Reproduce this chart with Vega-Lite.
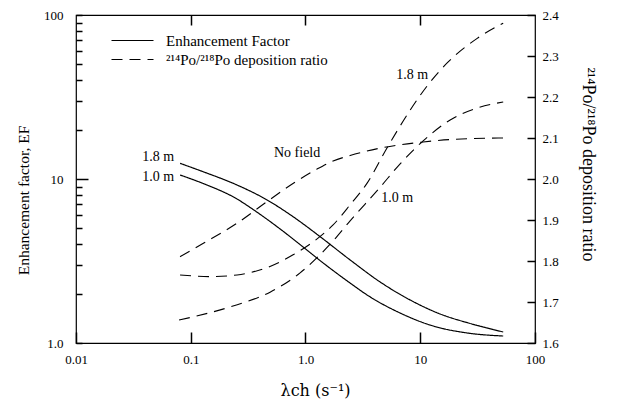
{
  "$schema": "https://vega.github.io/schema/vega-lite/v6.json",
  "width": 459,
  "height": 328,
  "autosize": "none",
  "padding": {"left": 76, "top": 15, "right": 82, "bottom": 58},
  "background": "white",
  "config": {
    "font": "Liberation Serif",
    "view": {"stroke": "black", "strokeWidth": 1.2},
    "axis": {
      "grid": false,
      "domain": false,
      "labelColor": "black",
      "titleColor": "black",
      "labelFont": "Liberation Serif",
      "titleFont": "Liberation Serif",
      "labelFontSize": 13,
      "titleFontSize": 16,
      "titleFontWeight": "normal"
    },
    "legend": {
      "labelFont": "Liberation Serif",
      "labelFontSize": 15,
      "labelColor": "black",
      "labelLimit": 400
    }
  },
  "datasets": {
    "curves": [
      {"lambda": 0.0807, "value": 12.46, "series": "EF 1.8 m", "kind": "Enhancement Factor"},
      {"lambda": 0.128, "value": 11.08, "series": "EF 1.8 m", "kind": "Enhancement Factor"},
      {"lambda": 0.2533, "value": 9.19, "series": "EF 1.8 m", "kind": "Enhancement Factor"},
      {"lambda": 0.4627, "value": 7.45, "series": "EF 1.8 m", "kind": "Enhancement Factor"},
      {"lambda": 0.7798, "value": 5.89, "series": "EF 1.8 m", "kind": "Enhancement Factor"},
      {"lambda": 1.341, "value": 4.45, "series": "EF 1.8 m", "kind": "Enhancement Factor"},
      {"lambda": 2.448, "value": 3.21, "series": "EF 1.8 m", "kind": "Enhancement Factor"},
      {"lambda": 4.472, "value": 2.355, "series": "EF 1.8 m", "kind": "Enhancement Factor"},
      {"lambda": 8.166, "value": 1.829, "series": "EF 1.8 m", "kind": "Enhancement Factor"},
      {"lambda": 14.91, "value": 1.503, "series": "EF 1.8 m", "kind": "Enhancement Factor"},
      {"lambda": 27.23, "value": 1.315, "series": "EF 1.8 m", "kind": "Enhancement Factor"},
      {"lambda": 52.83, "value": 1.167, "series": "EF 1.8 m", "kind": "Enhancement Factor"},
      {"lambda": 0.0807, "value": 10.58, "series": "EF 1.0 m", "kind": "Enhancement Factor"},
      {"lambda": 0.128, "value": 9.39, "series": "EF 1.0 m", "kind": "Enhancement Factor"},
      {"lambda": 0.2533, "value": 7.55, "series": "EF 1.0 m", "kind": "Enhancement Factor"},
      {"lambda": 0.3493, "value": 6.52, "series": "EF 1.0 m", "kind": "Enhancement Factor"},
      {"lambda": 0.6005, "value": 4.96, "series": "EF 1.0 m", "kind": "Enhancement Factor"},
      {"lambda": 0.953, "value": 3.85, "series": "EF 1.0 m", "kind": "Enhancement Factor"},
      {"lambda": 1.341, "value": 3.18, "series": "EF 1.0 m", "kind": "Enhancement Factor"},
      {"lambda": 2.448, "value": 2.32, "series": "EF 1.0 m", "kind": "Enhancement Factor"},
      {"lambda": 3.444, "value": 1.962, "series": "EF 1.0 m", "kind": "Enhancement Factor"},
      {"lambda": 6.679, "value": 1.523, "series": "EF 1.0 m", "kind": "Enhancement Factor"},
      {"lambda": 12.96, "value": 1.27, "series": "EF 1.0 m", "kind": "Enhancement Factor"},
      {"lambda": 25.64, "value": 1.151, "series": "EF 1.0 m", "kind": "Enhancement Factor"},
      {"lambda": 52.83, "value": 1.103, "series": "EF 1.0 m", "kind": "Enhancement Factor"},
      {"lambda": 0.0807, "value": 1.8105, "series": "Ratio no field", "kind": "²¹⁴Po/²¹⁸Po deposition ratio"},
      {"lambda": 0.1288, "value": 1.8432, "series": "Ratio no field", "kind": "²¹⁴Po/²¹⁸Po deposition ratio"},
      {"lambda": 0.2527, "value": 1.892, "series": "Ratio no field", "kind": "²¹⁴Po/²¹⁸Po deposition ratio"},
      {"lambda": 0.4611, "value": 1.9446, "series": "Ratio no field", "kind": "²¹⁴Po/²¹⁸Po deposition ratio"},
      {"lambda": 0.7838, "value": 1.9895, "series": "Ratio no field", "kind": "²¹⁴Po/²¹⁸Po deposition ratio"},
      {"lambda": 1.262, "value": 2.0244, "series": "Ratio no field", "kind": "²¹⁴Po/²¹⁸Po deposition ratio"},
      {"lambda": 1.74, "value": 2.0439, "series": "Ratio no field", "kind": "²¹⁴Po/²¹⁸Po deposition ratio"},
      {"lambda": 2.448, "value": 2.0573, "series": "Ratio no field", "kind": "²¹⁴Po/²¹⁸Po deposition ratio"},
      {"lambda": 4.75, "value": 2.0768, "series": "Ratio no field", "kind": "²¹⁴Po/²¹⁸Po deposition ratio"},
      {"lambda": 10.6, "value": 2.0902, "series": "Ratio no field", "kind": "²¹⁴Po/²¹⁸Po deposition ratio"},
      {"lambda": 18.23, "value": 2.0963, "series": "Ratio no field", "kind": "²¹⁴Po/²¹⁸Po deposition ratio"},
      {"lambda": 52.83, "value": 2.1, "series": "Ratio no field", "kind": "²¹⁴Po/²¹⁸Po deposition ratio"},
      {"lambda": 0.0807, "value": 1.766, "series": "Ratio 1.8 m", "kind": "²¹⁴Po/²¹⁸Po deposition ratio"},
      {"lambda": 0.1473, "value": 1.762, "series": "Ratio 1.8 m", "kind": "²¹⁴Po/²¹⁸Po deposition ratio"},
      {"lambda": 0.2533, "value": 1.766, "series": "Ratio 1.8 m", "kind": "²¹⁴Po/²¹⁸Po deposition ratio"},
      {"lambda": 0.4627, "value": 1.784, "series": "Ratio 1.8 m", "kind": "²¹⁴Po/²¹⁸Po deposition ratio"},
      {"lambda": 0.7798, "value": 1.815, "series": "Ratio 1.8 m", "kind": "²¹⁴Po/²¹⁸Po deposition ratio"},
      {"lambda": 1.262, "value": 1.854, "series": "Ratio 1.8 m", "kind": "²¹⁴Po/²¹⁸Po deposition ratio"},
      {"lambda": 1.74, "value": 1.888, "series": "Ratio 1.8 m", "kind": "²¹⁴Po/²¹⁸Po deposition ratio"},
      {"lambda": 2.448, "value": 1.937, "series": "Ratio 1.8 m", "kind": "²¹⁴Po/²¹⁸Po deposition ratio"},
      {"lambda": 3.444, "value": 1.99, "series": "Ratio 1.8 m", "kind": "²¹⁴Po/²¹⁸Po deposition ratio"},
      {"lambda": 5.145, "value": 2.076, "series": "Ratio 1.8 m", "kind": "²¹⁴Po/²¹⁸Po deposition ratio"},
      {"lambda": 8.166, "value": 2.168, "series": "Ratio 1.8 m", "kind": "²¹⁴Po/²¹⁸Po deposition ratio"},
      {"lambda": 11.49, "value": 2.227, "series": "Ratio 1.8 m", "kind": "²¹⁴Po/²¹⁸Po deposition ratio"},
      {"lambda": 17.16, "value": 2.283, "series": "Ratio 1.8 m", "kind": "²¹⁴Po/²¹⁸Po deposition ratio"},
      {"lambda": 31.35, "value": 2.343, "series": "Ratio 1.8 m", "kind": "²¹⁴Po/²¹⁸Po deposition ratio"},
      {"lambda": 52.83, "value": 2.38, "series": "Ratio 1.8 m", "kind": "²¹⁴Po/²¹⁸Po deposition ratio"},
      {"lambda": 0.0791, "value": 1.656, "series": "Ratio 1.0 m", "kind": "²¹⁴Po/²¹⁸Po deposition ratio"},
      {"lambda": 0.2201, "value": 1.688, "series": "Ratio 1.0 m", "kind": "²¹⁴Po/²¹⁸Po deposition ratio"},
      {"lambda": 0.4913, "value": 1.724, "series": "Ratio 1.0 m", "kind": "²¹⁴Po/²¹⁸Po deposition ratio"},
      {"lambda": 0.8973, "value": 1.771, "series": "Ratio 1.0 m", "kind": "²¹⁴Po/²¹⁸Po deposition ratio"},
      {"lambda": 1.639, "value": 1.841, "series": "Ratio 1.0 m", "kind": "²¹⁴Po/²¹⁸Po deposition ratio"},
      {"lambda": 2.448, "value": 1.898, "series": "Ratio 1.0 m", "kind": "²¹⁴Po/²¹⁸Po deposition ratio"},
      {"lambda": 4.472, "value": 1.98, "series": "Ratio 1.0 m", "kind": "²¹⁴Po/²¹⁸Po deposition ratio"},
      {"lambda": 6.679, "value": 2.037, "series": "Ratio 1.0 m", "kind": "²¹⁴Po/²¹⁸Po deposition ratio"},
      {"lambda": 10.6, "value": 2.093, "series": "Ratio 1.0 m", "kind": "²¹⁴Po/²¹⁸Po deposition ratio"},
      {"lambda": 18.23, "value": 2.144, "series": "Ratio 1.0 m", "kind": "²¹⁴Po/²¹⁸Po deposition ratio"},
      {"lambda": 31.35, "value": 2.173, "series": "Ratio 1.0 m", "kind": "²¹⁴Po/²¹⁸Po deposition ratio"},
      {"lambda": 52.83, "value": 2.188, "series": "Ratio 1.0 m", "kind": "²¹⁴Po/²¹⁸Po deposition ratio"}
    ],
    "labels": [
      {"lambda": 0.0519, "value": 13.6, "text": "1.8 m"},
      {"lambda": 0.0519, "value": 10.3, "text": "1.0 m"},
      {"lambda": 0.845, "value": 14.4, "text": "No field"},
      {"lambda": 8.49, "value": 43.1, "text": "1.8 m"},
      {"lambda": 6.3, "value": 7.66, "text": "1.0 m"}
    ]
  },
  "layer": [
    {
      "layer": [
        {
          "data": {"name": "curves"},
          "transform": [{"filter": "datum.kind == 'Enhancement Factor'"}],
          "mark": {"type": "line", "interpolate": "monotone", "color": "black", "strokeWidth": 1.2},
          "encoding": {
            "x": {
              "field": "lambda", "type": "quantitative",
              "scale": {"type": "log", "domain": [0.01, 100]},
              "axis": {
                "orient": "bottom",
                "values": [0.01, 0.1, 1, 10, 100],
                "labelExpr": "datum.value == 1 ? '1.0' : '' + datum.value",
                "ticks": true,
                "tickColor": "#000000",
                "tickWidth": 1.5,
                "tickOpacity": 1,
                "offset": -11,
                "tickSize": 11,
                "labelPadding": 10,
                "labelFlush": false,
                "title": "λch (s⁻¹)",
                "titleFont": "DejaVu Serif",
                "titleX": 239,
                "titlePadding": 16
              }
            },
            "y": {
              "field": "value", "type": "quantitative",
              "scale": {"type": "log", "domain": [1, 100]},
              "axis": {
                "orient": "left",
                "values": [1, 2, 3, 4, 5, 6, 7, 8, 9, 10, 20, 30, 40, 50, 60, 70, 80, 90, 100],
                "labelExpr": "datum.value == 1 ? '1.0' : (datum.value == 10 || datum.value == 100) ? '' + datum.value : ''",
                "ticks": true,
                "tickColor": "#000000",
                "tickWidth": 1.5,
                "tickOpacity": 1,
                "offset": -12,
                "tickSize": 12,
                "tickDash": {"condition": {"test": "datum.value == 10", "value": [20, 0]}, "value": [0, 6, 6]},
                "labelPadding": 13,
                "labelFlush": false,
                "labelBaseline": "middle",
                "title": "Enhancement factor, EF",
                "titleFontSize": 15.5,
                "titleY": 185,
                "titlePadding": 12
              }
            },
            "detail": {"field": "series"},
            "strokeDash": {
              "field": "kind", "type": "nominal",
              "scale": {"domain": ["Enhancement Factor", "²¹⁴Po/²¹⁸Po deposition ratio"], "range": [[1, 0], [11, 7]]},
              "legend": {
                "title": null,
                "orient": "none",
                "legendX": 49,
                "legendY": 18,
                "symbolType": "M-21,0H21",
                "symbolSize": 4,
                "symbolStrokeColor": "black",
                "symbolStrokeWidth": 1.2,
                "labelOffset": 26,
                "rowPadding": 3,
                "padding": 0
              }
            }
          }
        },
        {
          "data": {"name": "labels"},
          "mark": {"type": "text", "font": "Liberation Serif", "fontSize": 14, "color": "black", "align": "center", "baseline": "middle"},
          "encoding": {
            "x": {"field": "lambda", "type": "quantitative"},
            "y": {"field": "value", "type": "quantitative"},
            "text": {"field": "text"}
          }
        }
      ]
    },
    {
      "data": {"name": "curves"},
      "transform": [{"filter": "datum.kind != 'Enhancement Factor'"}],
      "mark": {"type": "line", "interpolate": "monotone", "color": "black", "strokeWidth": 1.1},
      "encoding": {
        "x": {
          "field": "lambda", "type": "quantitative",
          "axis": {"orient": "top", "values": [0.1, 1, 10], "labels": false, "ticks": true, "tickColor": "#000000", "tickWidth": 1.5, "tickOpacity": 1, "offset": -10, "tickSize": 10, "title": null}
        },
        "y": {
          "field": "value", "type": "quantitative",
          "scale": {"domain": [1.6, 2.4], "nice": false, "zero": false},
          "axis": {
            "orient": "right",
            "values": [1.6, 1.7, 1.8, 1.9, 2.0, 2.1, 2.2, 2.3, 2.4],
            "format": ".1f",
            "ticks": true,
            "tickColor": "#000000",
            "tickWidth": 1.5,
            "tickOpacity": 1,
            "offset": -8,
            "tickSize": 8,
            "labelPadding": 7,
            "labelFlush": false,
            "labelBaseline": "middle",
            "title": "²¹⁴Po/²¹⁸Po deposition ratio",
            "titleFontSize": 18,
            "titleY": 149,
            "titlePadding": 20
          }
        },
        "detail": {"field": "series"},
        "strokeDash": {
          "field": "kind", "type": "nominal",
          "scale": {"domain": ["Enhancement Factor", "²¹⁴Po/²¹⁸Po deposition ratio"], "range": [[1, 0], [11, 7]]}
        }
      }
    }
  ],
  "resolve": {"scale": {"y": "independent"}, "axis": {"x": "independent"}}
}
